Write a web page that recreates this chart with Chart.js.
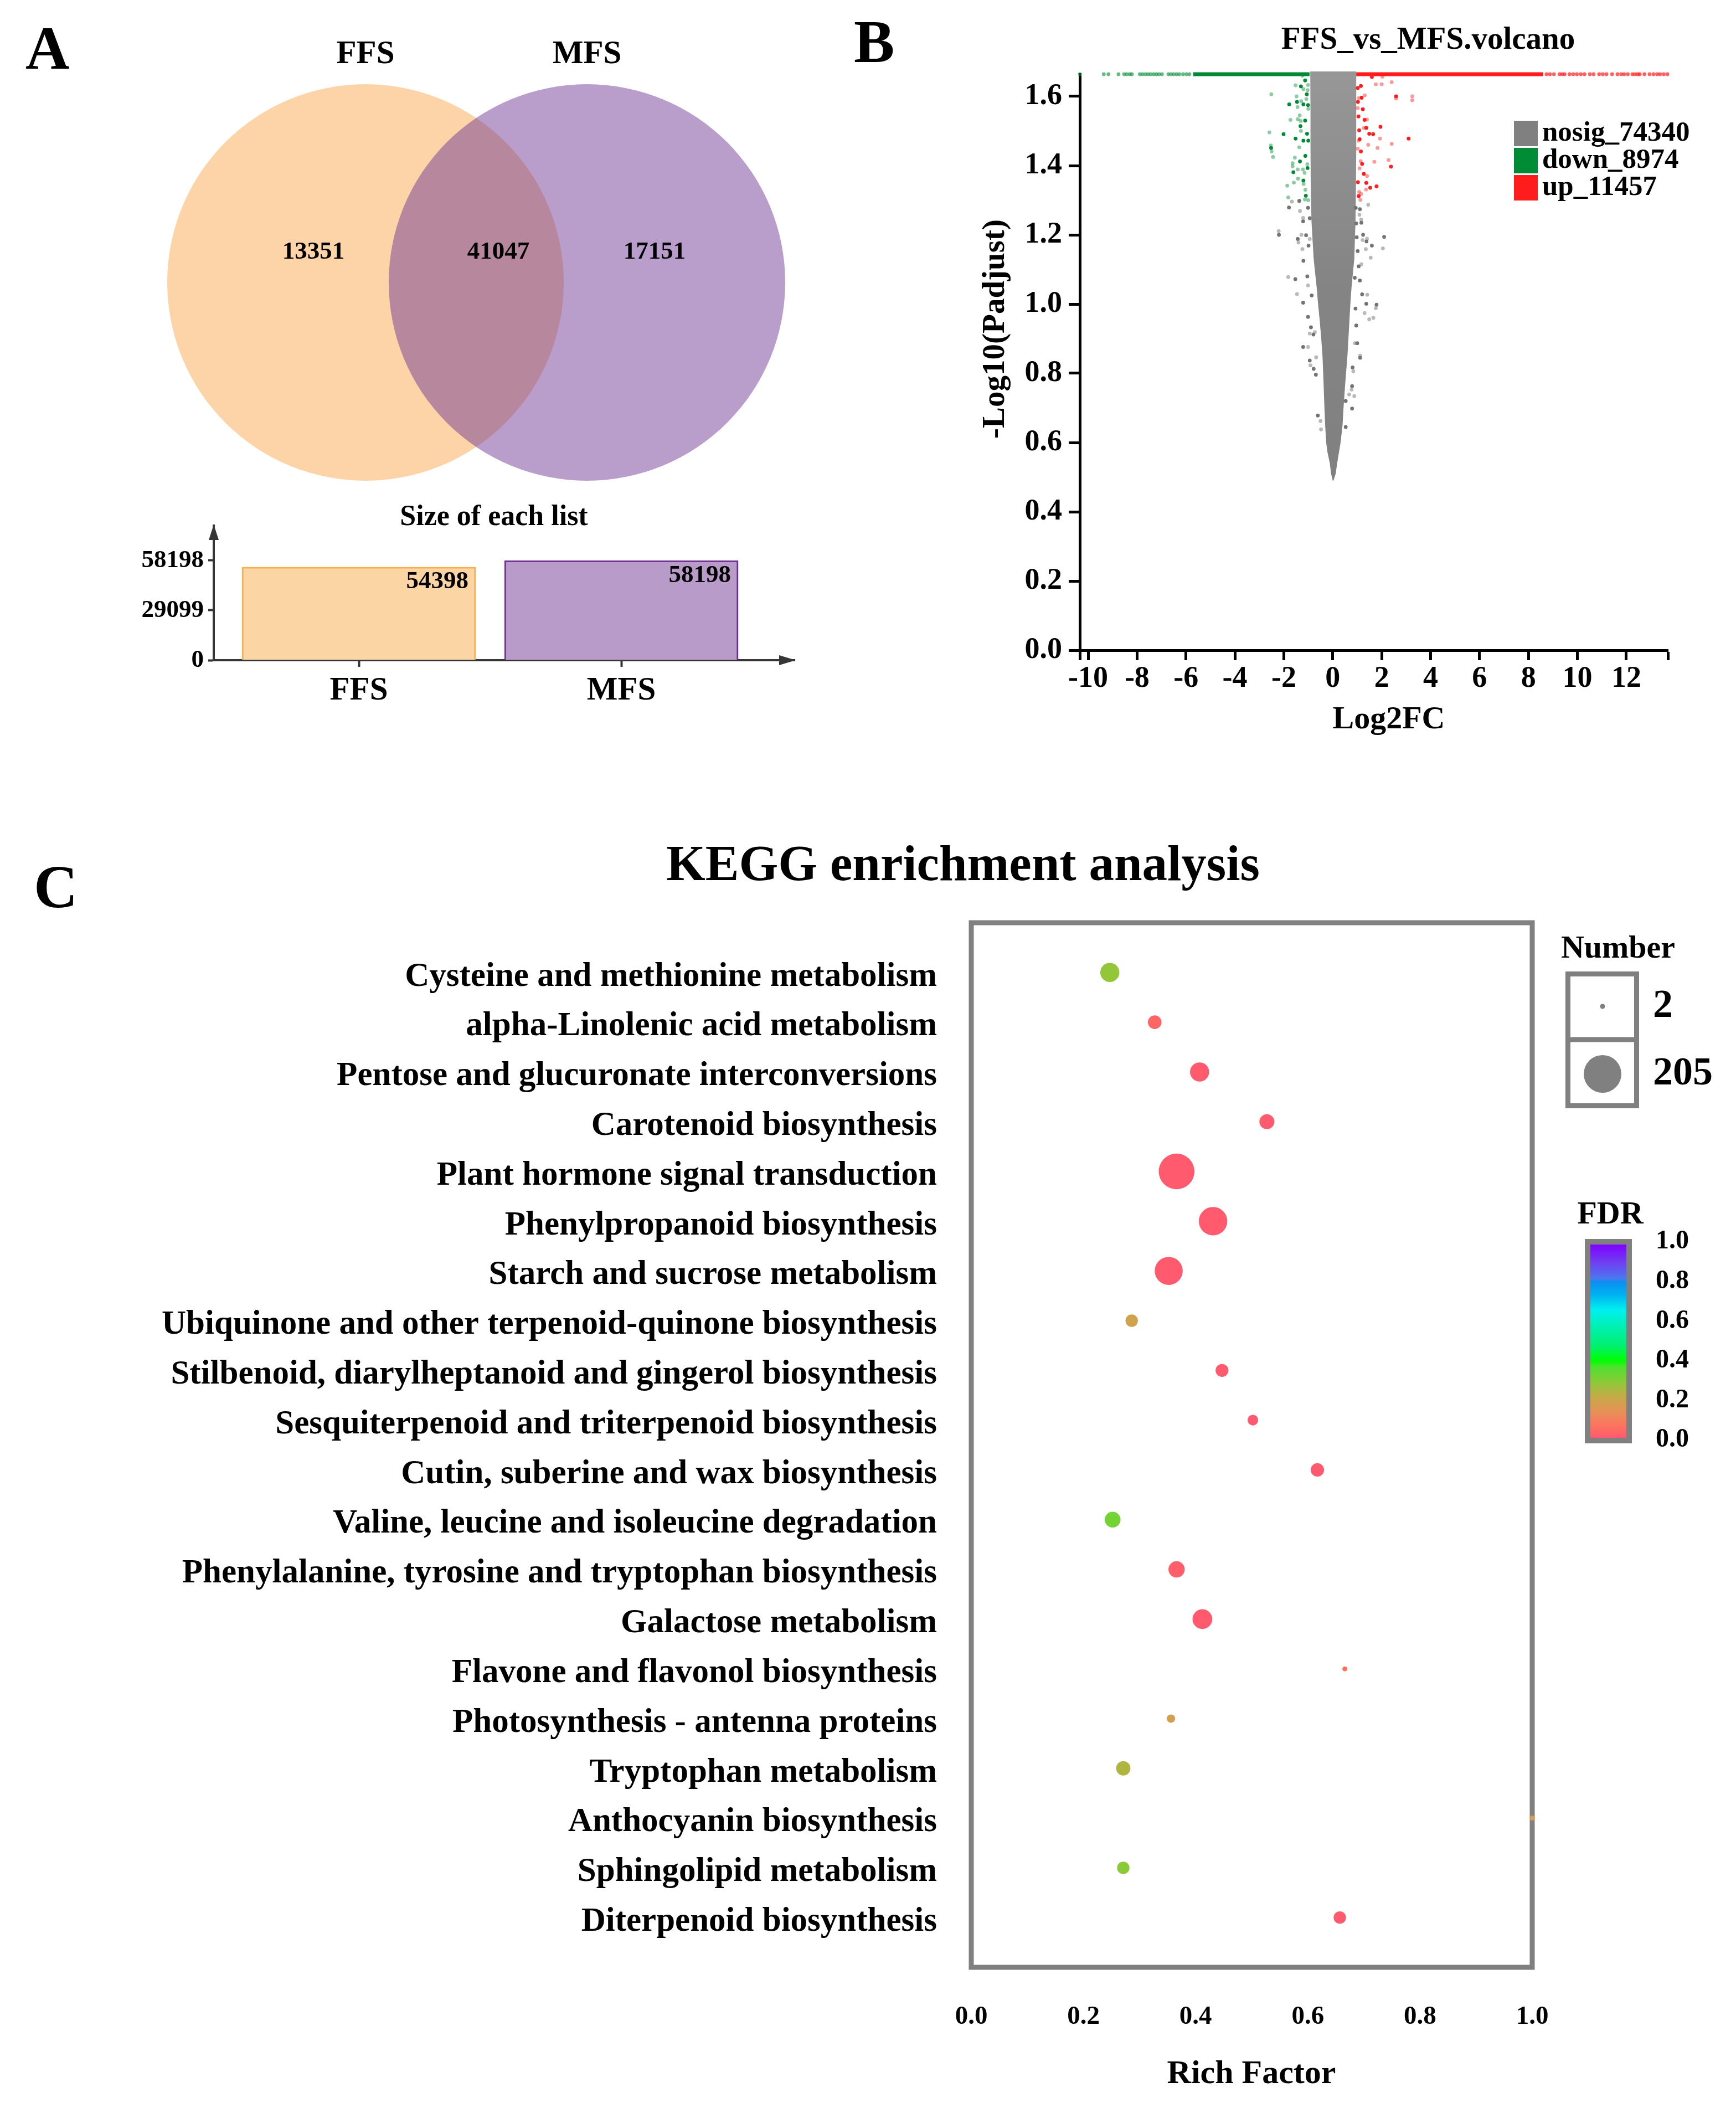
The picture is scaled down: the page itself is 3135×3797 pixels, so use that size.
<!DOCTYPE html>
<html>
<head>
<meta charset="utf-8">
<title>FFS vs MFS</title>
<script src="https://cdn.jsdelivr.net/npm/chart.js@4.4.1/dist/chart.umd.min.js"></script>
<style>
  html, body { margin: 0; padding: 0; background: #fff; }
  #page { position: relative; width: 3135px; height: 3797px; overflow: hidden; background: #fff; }
  canvas { position: absolute; }
</style>
</head>
<body>
<div id="page">
  <canvas id="venn" width="1500" height="1020" style="left:0px;top:0px"></canvas>
  <canvas id="sizes" width="1500" height="400" style="left:0px;top:900px"></canvas>
  <canvas id="volcano" width="1635" height="1380" style="left:1500px;top:0px"></canvas>
  <canvas id="kegg" width="3135" height="2397" style="left:0px;top:1400px"></canvas>
</div>
<script>
const FONT = '"Liberation Serif", "Times New Roman", serif';

// ---- A: venn + size of each list
const vennSets = ['FFS', 'MFS'];
const vennOnly = [13351, 17151];
const vennShared = 41047;
const listSizes = [54398, 58198];
const listTicks = [0, 29099, 58198];

// ---- B: volcano
const volcanoGroups = ['nosig', 'down', 'up'];
const volcanoCounts = [74340, 8974, 11457];
const volcanoXTicks = [-10, -8, -6, -4, -2, 0, 2, 4, 6, 8, 10, 12];
const volcanoYTicks = [0, 0.2, 0.4, 0.6, 0.8, 1.0, 1.2, 1.4, 1.6];
const capY = 1.664; // capped -log10(padj)

// dense non-significant core: outline
const coreY     = [0.49, 0.51, 0.54, 0.57, 0.60, 0.65, 0.70, 0.78, 0.85, 0.90, 0.95, 1.00, 1.05, 1.13, 1.24, 1.35, 1.45, 1.56, 1.672];
const coreLeft  = [0.00, -0.07, -0.12, -0.21, -0.27, -0.31, -0.34, -0.38, -0.42, -0.47, -0.53, -0.60, -0.66, -0.78, -0.87, -0.90, -0.91, -0.91, -0.92];
const coreRight = [0.03, 0.12, 0.18, 0.25, 0.32, 0.40, 0.44, 0.52, 0.60, 0.64, 0.68, 0.72, 0.77, 0.88, 0.93, 0.95, 0.96, 0.96, 0.96];

const nosigDark = [
  [-1.37,1.298], [-1.79,1.279], [-1.01,1.278], [-0.94,1.248], [-1.21,1.239], [-2.20,1.200], [-1.09,1.199],
  [-1.43,1.188], [-0.99,1.169], [-1.20,1.125], [-1.53,1.072], [-1.04,1.080], [-0.86,1.025], [-1.21,1.004],
  [-1.01,0.963], [-0.89,0.933], [-0.79,0.912], [-1.21,0.876], [-0.94,0.837], [-0.78,0.813], [-0.69,0.796],
  [-0.61,0.678],
  [1.11,1.274], [0.94,1.278], [1.17,1.235], [0.96,1.233], [1.24,1.200], [0.98,1.193], [1.38,1.181],
  [2.10,1.194], [1.60,1.169], [1.02,1.153], [1.06,1.109], [1.11,1.068], [0.90,1.076], [1.20,1.028],
  [1.37,1.001], [1.79,0.998], [0.93,0.987], [0.96,0.938], [1.00,0.887], [1.12,0.845], [0.81,0.817],
  [0.79,0.763], [0.79,0.698], [0.53,0.720], [0.53,0.645]
];
const nosigLight = [
  [-1.67,1.296], [-1.34,1.269], [-1.21,1.249], [-2.21,1.211], [-1.28,1.200], [-1.40,1.178], [-0.94,1.188],
  [-1.24,1.159], [-1.82,1.078], [-1.01,1.054], [-1.46,1.029], [-0.94,0.915], [-0.73,0.919], [-1.01,0.876],
  [-0.91,0.823], [-0.68,0.846], [-0.48,0.638], [-0.50,0.662],
  [1.45,1.287], [1.09,1.258], [1.16,1.244], [1.40,1.189], [1.22,1.185], [2.05,1.161], [1.35,1.159],
  [1.55,1.134], [1.17,1.115], [1.41,1.027], [1.76,0.988], [1.30,0.974], [1.49,0.956], [1.66,0.960],
  [0.90,0.887], [1.12,0.851], [0.84,0.806], [0.77,0.753], [0.88,0.734], [0.67,0.739]
];
const downDark = [
  [-1.13,1.646], [-1.30,1.629], [-1.06,1.606], [-1.46,1.584], [-1.78,1.577], [-1.20,1.577], [-1.01,1.575],
  [-1.13,1.530], [-1.32,1.514], [-2.01,1.491], [-1.05,1.492], [-1.52,1.478], [-1.20,1.472], [-1.00,1.472],
  [-2.52,1.451], [-1.12,1.428], [-1.34,1.412], [-1.03,1.393], [-1.61,1.381], [-1.20,1.357], [-1.10,1.313]
];
const downLight = [
  [-1.24,1.660], [-1.52,1.632], [-1.01,1.633], [-1.20,1.621], [-1.03,1.618], [-2.51,1.606], [-1.48,1.600],
  [-1.08,1.592], [-1.29,1.586], [-1.44,1.569], [-1.00,1.564], [-1.35,1.545], [-1.43,1.534], [-1.73,1.532],
  [-1.31,1.529], [-1.30,1.500], [-2.59,1.496], [-2.53,1.458], [-2.50,1.441], [-2.44,1.425], [-1.37,1.453],
  [-1.55,1.423], [-1.64,1.407], [-1.64,1.398], [-1.04,1.404], [-1.43,1.389], [-1.22,1.389], [-1.15,1.379],
  [-1.42,1.362], [-1.86,1.342], [-1.59,1.351], [-1.19,1.347], [-1.12,1.330], [-1.82,1.308], [-1.14,1.302],
  [-1.00,1.300]
];
const upDark = [
  [1.60,1.656], [1.15,1.630], [1.02,1.624], [1.18,1.596], [2.59,1.600], [1.03,1.584], [1.23,1.563],
  [1.05,1.542], [1.30,1.532], [1.95,1.512], [1.37,1.509], [1.08,1.502], [1.49,1.492], [1.65,1.491],
  [3.10,1.478], [1.10,1.476], [1.15,1.441], [1.20,1.405], [2.38,1.397], [1.27,1.376], [1.03,1.352],
  [1.37,1.350], [1.53,1.336], [1.79,1.340], [1.06,1.312]
];
const upLight = [
  [2.03,1.657], [1.76,1.635], [2.00,1.635], [2.41,1.641], [1.06,1.595], [1.31,1.603], [2.59,1.594],
  [3.25,1.600], [3.25,1.589], [1.02,1.566], [1.40,1.533], [1.27,1.509], [1.93,1.478], [1.06,1.472],
  [1.45,1.460], [1.83,1.451], [2.41,1.463], [1.02,1.449], [1.14,1.413], [1.70,1.411], [2.28,1.416],
  [1.10,1.392], [1.40,1.370], [1.36,1.331], [1.08,1.324], [1.16,1.318], [1.13,1.301]
];
// genes capped at the top of the plot
const downCapRun = [-5.70, -0.95];
const upCapRun = [0.96, 8.60];
const downCapX = [-10.34, -9.36, -9.17, -8.76, -8.53, -8.42, -8.30, -8.21, -7.89, -7.78, -7.66, -7.55,
  -7.44, -7.32, -7.21, -7.10, -6.98, -6.72, -6.61, -6.50, -6.38, -6.27, -6.12, -5.98, -5.86];
const upCapX = [8.74, 8.88, 9.04, 9.27, 9.38, 9.48, 9.68, 9.83, 9.98, 10.14, 10.29, 10.51, 10.66, 10.89,
  11.04, 11.19, 11.42, 11.64, 11.79, 11.91, 12.06, 12.25, 12.36, 12.47, 12.55, 12.74, 12.95, 13.11,
  13.26, 13.38, 13.53, 13.68];

// ---- C: KEGG enrichment
const pathways = [
  'Cysteine and methionine metabolism',
  'alpha-Linolenic acid metabolism',
  'Pentose and glucuronate interconversions',
  'Carotenoid biosynthesis',
  'Plant hormone signal transduction',
  'Phenylpropanoid biosynthesis',
  'Starch and sucrose metabolism',
  'Ubiquinone and other terpenoid-quinone biosynthesis',
  'Stilbenoid, diarylheptanoid and gingerol biosynthesis',
  'Sesquiterpenoid and triterpenoid biosynthesis',
  'Cutin, suberine and wax biosynthesis',
  'Valine, leucine and isoleucine degradation',
  'Phenylalanine, tyrosine and tryptophan biosynthesis',
  'Galactose metabolism',
  'Flavone and flavonol biosynthesis',
  'Photosynthesis - antenna proteins',
  'Tryptophan metabolism',
  'Anthocyanin biosynthesis',
  'Sphingolipid metabolism',
  'Diterpenoid biosynthesis'
];
const richFactor = [0.247, 0.327, 0.407, 0.527, 0.366, 0.431, 0.352, 0.286, 0.447, 0.502,
  0.617, 0.252, 0.366, 0.412, 0.666, 0.356, 0.271, 1.0, 0.271, 0.657];
const geneNumber = [90, 56, 90, 64, 193, 148, 145, 48, 51, 37, 54, 69, 72, 94, 2, 23, 60, 2, 48, 48];
const fdr = [0.28, 0.03, 0.0, 0.0, 0.0, 0.0, 0.0, 0.19, 0.0, 0.0, 0.0, 0.32, 0.01, 0.0, 0.06,
  0.18, 0.24, 0.16, 0.29, 0.0];
const numberLegend = [2, 205];
const fdrTicks = [0, 0.2, 0.4, 0.6, 0.8, 1.0];
const richTicks = [0, 0.2, 0.4, 0.6, 0.8, 1.0];

// ---- styles
const GRAY = '#808080', GREEN = '#008c34', RED = '#ff1c1c', AXIS = '#363636';
const vennFill = ['rgba(250,170,80,0.5)', 'rgba(115,60,150,0.5)'];
const vennLabelAt = [-0.235, 0.6, 1.305];
const barFill = ['#fcd5a5', '#b89bc9'];
const barEdge = ['#f6b052', '#6b2f90'];
const fdrStops = [[0, '#ff5a6e'], [0.055, '#fe7060'], [0.132, '#e89058'], [0.208, '#c8a848'],
  [0.284, '#90c838'], [0.366, '#50e030'], [0.399, '#00ff00'], [0.475, '#00f070'], [0.571, '#00f0b0'],
  [0.661, '#00f0f0'], [0.742, '#00b0f0'], [0.805, '#0a90f0'], [0.824, '#4a78f0'], [0.905, '#7040f0'],
  [1, '#7f00ff']];

Chart.defaults.font.family = FONT;
Chart.defaults.font.weight = 'bold';
Chart.defaults.color = '#000';
Chart.defaults.plugins.legend.display = false;
Chart.defaults.plugins.tooltip.enabled = false;

function hexRgb(h) {
  return [1, 3, 5].map(i => parseInt(h.slice(i, i + 2), 16));
}
function fdrColor(v) {
  for (let i = 1; i < fdrStops.length; i++) {
    const [v1, c1] = fdrStops[i];
    if (v <= v1) {
      const [v0, c0] = fdrStops[i - 1];
      const t = (v - v0) / (v1 - v0);
      const a = hexRgb(c0), b = hexRgb(c1);
      return `rgb(${a.map((c, k) => Math.round(c + (b[k] - c) * t)).join(',')})`;
    }
  }
  return fdrStops[fdrStops.length - 1][1];
}
function bubbleRadius(n) {
  return 4.5 + (n - numberLegend[0]) / (numberLegend[1] - numberLegend[0]) * 29.5;
}
function drawText(ctx, text, x, y, size, align = 'center', baseline = 'middle') {
  ctx.save();
  ctx.font = `bold ${size}px ${FONT}`;
  ctx.fillStyle = '#000';
  ctx.textAlign = align;
  ctx.textBaseline = baseline;
  ctx.fillText(text, x, y);
  ctx.restore();
}
function noPad(s) {
  s.paddingLeft = s.paddingRight = s.paddingTop = s.paddingBottom = 0;
}
const base = { responsive: false, animation: false, devicePixelRatio: 1, events: [] };
const pad = (top, right) => ({ autoPadding: false, padding: { top, right, left: 0, bottom: 0 } });

// ================= A: Venn
const vennText = {
  id: 'vennText',
  afterDatasetsDraw(chart) {
    const { ctx, scales: { x, y } } = chart;
    drawText(ctx, 'A', 46, 124, 110, 'left', 'alphabetic');
    vennSets.forEach((name, i) => drawText(ctx, name, x.getPixelForValue(i), 99, 59));
    const counts = [vennOnly[0], vennShared, vennOnly[1]];
    const cy = y.getPixelForValue(0) - 55;
    vennLabelAt.forEach((v, i) => drawText(ctx, String(counts[i]), x.getPixelForValue(v), cy, 45));
  }
};
new Chart(document.getElementById('venn'), {
  type: 'scatter',
  data: {
    datasets: vennSets.map((name, i) => ({
      label: name,
      data: [{ x: i, y: 0 }],
      pointRadius: 358,
      backgroundColor: vennFill[i],
      borderWidth: 0,
      clip: false,
      order: vennSets.length - i
    }))
  },
  options: {
    ...base,
    layout: pad(0, 0),
    scales: {
      x: { type: 'linear', display: false, min: -1.65, max: 2.1 },
      y: { type: 'linear', display: false, min: -1, max: 1 }
    }
  },
  plugins: [vennText]
});

// ================= A: size of each list
const sizeDecor = {
  id: 'sizeDecor',
  afterDraw(chart) {
    const { ctx, chartArea: a } = chart;
    drawText(ctx, 'Size of each list', 892, 35, 52);
    ctx.save();
    ctx.fillStyle = AXIS;
    ctx.beginPath();
    ctx.moveTo(a.left, a.top - 2); ctx.lineTo(a.left - 9, a.top + 26); ctx.lineTo(a.left + 9, a.top + 26);
    ctx.fill();
    ctx.beginPath();
    ctx.moveTo(a.right + 2, a.bottom); ctx.lineTo(a.right - 28, a.bottom - 9); ctx.lineTo(a.right - 28, a.bottom + 9);
    ctx.fill();
    ctx.restore();
    chart.getDatasetMeta(0).data.forEach((bar, i) => {
      drawText(ctx, String(listSizes[i]), bar.x + bar.width / 2 - 13, bar.y + 27, 45, 'right');
    });
  }
};
new Chart(document.getElementById('sizes'), {
  type: 'bar',
  data: {
    datasets: [{
      data: listSizes.map((v, i) => ({ x: i, y: v })),
      backgroundColor: barFill,
      borderColor: barEdge,
      borderWidth: 3,
      barThickness: 422
    }]
  },
  options: {
    ...base,
    layout: pad(49, 65),
    scales: {
      x: {
        type: 'linear', min: -0.5527, max: 1.66, offset: false,
        afterBuildTicks: s => { s.ticks = vennSets.map((n, i) => ({ value: i })); },
        afterFit: s => { s.height = 108; noPad(s); },
        ticks: { callback: v => vennSets[v], font: { size: 59 }, padding: 8, autoSkip: false, maxRotation: 0 },
        grid: { offset: false, drawOnChartArea: false, tickLength: 12, tickWidth: 4, tickColor: AXIS },
        border: { color: AXIS, width: 4 }
      },
      y: {
        type: 'linear', min: 0, max: 78567,
        afterBuildTicks: s => { s.ticks = listTicks.map(v => ({ value: v })); },
        afterFit: s => { s.width = 386; noPad(s); },
        ticks: { callback: v => String(v), font: { size: 45 }, padding: 8, autoSkip: false },
        grid: { drawOnChartArea: false, tickLength: 10, tickWidth: 4, tickColor: AXIS },
        border: { color: AXIS, width: 4 }
      }
    }
  },
  plugins: [sizeDecor]
});

// ================= B: volcano
const volcanoDecor = {
  id: 'volcanoDecor',
  beforeDatasetsDraw(chart) {
    const { ctx, scales: { x, y } } = chart;
    const g = ctx.createLinearGradient(0, y.getPixelForValue(0.5), 0, y.getPixelForValue(capY));
    g.addColorStop(0, '#808080');
    g.addColorStop(0.5, '#858585');
    g.addColorStop(1, '#979797');
    ctx.save();
    ctx.fillStyle = g;
    ctx.beginPath();
    coreY.forEach((v, i) => {
      const px = x.getPixelForValue(coreLeft[i]), py = y.getPixelForValue(v);
      if (i) ctx.lineTo(px, py); else ctx.moveTo(px, py);
    });
    for (let i = coreY.length - 1; i >= 0; i--) {
      ctx.lineTo(x.getPixelForValue(coreRight[i]), y.getPixelForValue(coreY[i]));
    }
    ctx.closePath();
    ctx.fill();
    ctx.restore();
  },
  afterDraw(chart) {
    const { ctx } = chart;
    drawText(ctx, 'B', 42, 112, 110, 'left', 'alphabetic');
    drawText(ctx, 'FFS_vs_MFS.volcano', 1079, 73, 57);
    drawText(ctx, 'Log2FC', 1008, 1300, 58);
    ctx.save();
    ctx.translate(298, 594);
    ctx.rotate(-Math.PI / 2);
    drawText(ctx, '-Log10(Padjust)', 0, 0, 57);
    ctx.restore();
    const colors = [GRAY, GREEN, RED];
    volcanoGroups.forEach((g, i) => {
      ctx.fillStyle = colors[i];
      ctx.fillRect(1234, 218 + i * 49, 43, 46);
      drawText(ctx, `${g}_${volcanoCounts[i]}`, 1285, 241 + i * 49, 51, 'left');
    });
  }
};
const dots = (pts, color, order) => ({
  data: pts.map(([x, y]) => ({ x, y })),
  backgroundColor: color, borderWidth: 0, pointRadius: 3.4, clip: false, order
});
const capDots = (xs, color, order) => ({
  data: xs.map(x => ({ x, y: capY })),
  backgroundColor: color, borderWidth: 0, pointRadius: 3.4, clip: false, order
});
const capRun = (run, color, order) => ({
  data: run.map(x => ({ x, y: capY })),
  showLine: true, borderColor: color, borderWidth: 7, pointRadius: 0, clip: false, order
});
new Chart(document.getElementById('volcano'), {
  type: 'scatter',
  data: {
    datasets: [
      capRun(downCapRun, GREEN, 1),
      capRun(upCapRun, RED, 1),
      capDots(downCapX, 'rgba(0,140,52,0.6)', 2),
      capDots(upCapX, 'rgba(255,28,28,0.7)', 2),
      dots(downDark, GREEN, 3),
      dots(upDark, RED, 3),
      dots(downLight, 'rgba(0,140,52,0.45)', 4),
      dots(upLight, 'rgba(255,28,28,0.45)', 4),
      dots(nosigDark, '#737373', 5),
      dots(nosigLight, 'rgba(128,128,128,0.55)', 6)
    ]
  },
  options: {
    ...base,
    layout: pad(134, 123),
    scales: {
      x: {
        type: 'linear', min: -10.34, max: 13.7,
        afterBuildTicks: s => { s.ticks = [-10.34, ...volcanoXTicks, 13.7].map(v => ({ value: v })); },
        afterFit: s => { s.height = 206; noPad(s); },
        ticks: { callback: v => volcanoXTicks.includes(v) ? String(v) : '', font: { size: 54 }, padding: 2, autoSkip: false, maxRotation: 0 },
        grid: { drawOnChartArea: false, tickLength: 18, tickWidth: 5, tickColor: '#000' },
        border: { color: '#000', width: 5 }
      },
      y: {
        type: 'linear', min: 0, max: capY,
        afterBuildTicks: s => { s.ticks = volcanoYTicks.map(v => ({ value: v })); },
        afterFit: s => { s.width = 450; noPad(s); },
        ticks: { callback: v => v.toFixed(1), font: { size: 54 }, padding: 12, autoSkip: false },
        grid: { drawOnChartArea: false, tickLength: 20, tickWidth: 5, tickColor: '#000' },
        border: { color: '#000', width: 5 }
      }
    }
  },
  plugins: [volcanoDecor]
});

// ================= C: KEGG bubbles
const keggDecor = {
  id: 'keggDecor',
  beforeDatasetsDraw(chart) {
    const { ctx, chartArea: a } = chart;
    ctx.save();
    ctx.strokeStyle = GRAY;
    ctx.lineWidth = 9;
    ctx.strokeRect(a.left, a.top, a.right - a.left, a.bottom - a.top);
    ctx.restore();
  },
  afterDraw(chart) {
    const { ctx } = chart;
    drawText(ctx, 'C', 61, 238, 110, 'left', 'alphabetic');
    drawText(ctx, 'KEGG enrichment analysis', 1739, 165, 91);
    drawText(ctx, 'Rich Factor', 2260, 2345, 60);

    // gene number legend
    drawText(ctx, 'Number', 2922, 314, 58);
    ctx.save();
    ctx.strokeStyle = GRAY;
    ctx.lineWidth = 9;
    ctx.strokeRect(2831.5, 358.5, 124, 238);
    ctx.beginPath(); ctx.moveTo(2827, 477); ctx.lineTo(2960, 477); ctx.stroke();
    ctx.fillStyle = GRAY;
    numberLegend.forEach((n, i) => {
      const cy = [417, 539][i];
      ctx.beginPath(); ctx.arc(2894, cy, bubbleRadius(n), 0, Math.PI * 2); ctx.fill();
      drawText(ctx, String(n), 2985, cy, 72, 'left');
    });
    ctx.restore();

    // FDR colour bar
    drawText(ctx, 'FDR', 2908, 794, 58);
    ctx.save();
    const g = ctx.createLinearGradient(0, 1196, 0, 847);
    fdrStops.forEach(([v, c]) => g.addColorStop(v, c));
    ctx.fillStyle = g;
    ctx.fillRect(2872, 847, 66, 349);
    ctx.strokeStyle = GRAY;
    ctx.lineWidth = 10;
    ctx.strokeRect(2867, 842, 75, 359);
    ctx.restore();
    fdrTicks.forEach(v => drawText(ctx, v.toFixed(1), 2990, 842 + (1 - v) * 358, 48, 'left'));
  }
};
new Chart(document.getElementById('kegg'), {
  type: 'bubble',
  data: {
    datasets: [{
      data: pathways.map((p, i) => ({ x: richFactor[i], y: i + 1, r: bubbleRadius(geneNumber[i]) })),
      backgroundColor: fdr.map(fdrColor),
      borderWidth: 0,
      clip: false
    }]
  },
  options: {
    ...base,
    layout: pad(266, 368),
    scales: {
      x: {
        type: 'linear', min: 0, max: 1,
        afterBuildTicks: s => { s.ticks = richTicks.map(v => ({ value: v })); },
        afterFit: s => { s.height = 245; noPad(s); },
        ticks: { callback: v => v.toFixed(1), font: { size: 47 }, padding: 62, autoSkip: false, maxRotation: 0 },
        grid: { display: false, drawTicks: false },
        border: { display: false }
      },
      y: {
        type: 'linear', min: 0, max: 21, reverse: true,
        afterBuildTicks: s => { s.ticks = pathways.map((p, i) => ({ value: i + 1 })); },
        afterFit: s => { s.width = 1754; noPad(s); },
        ticks: { callback: v => pathways[v - 1] || '', font: { size: 61 }, padding: 62, labelOffset: 8, autoSkip: false },
        grid: { display: false, drawTicks: false },
        border: { display: false }
      }
    }
  },
  plugins: [keggDecor]
});
</script>
</body>
</html>
